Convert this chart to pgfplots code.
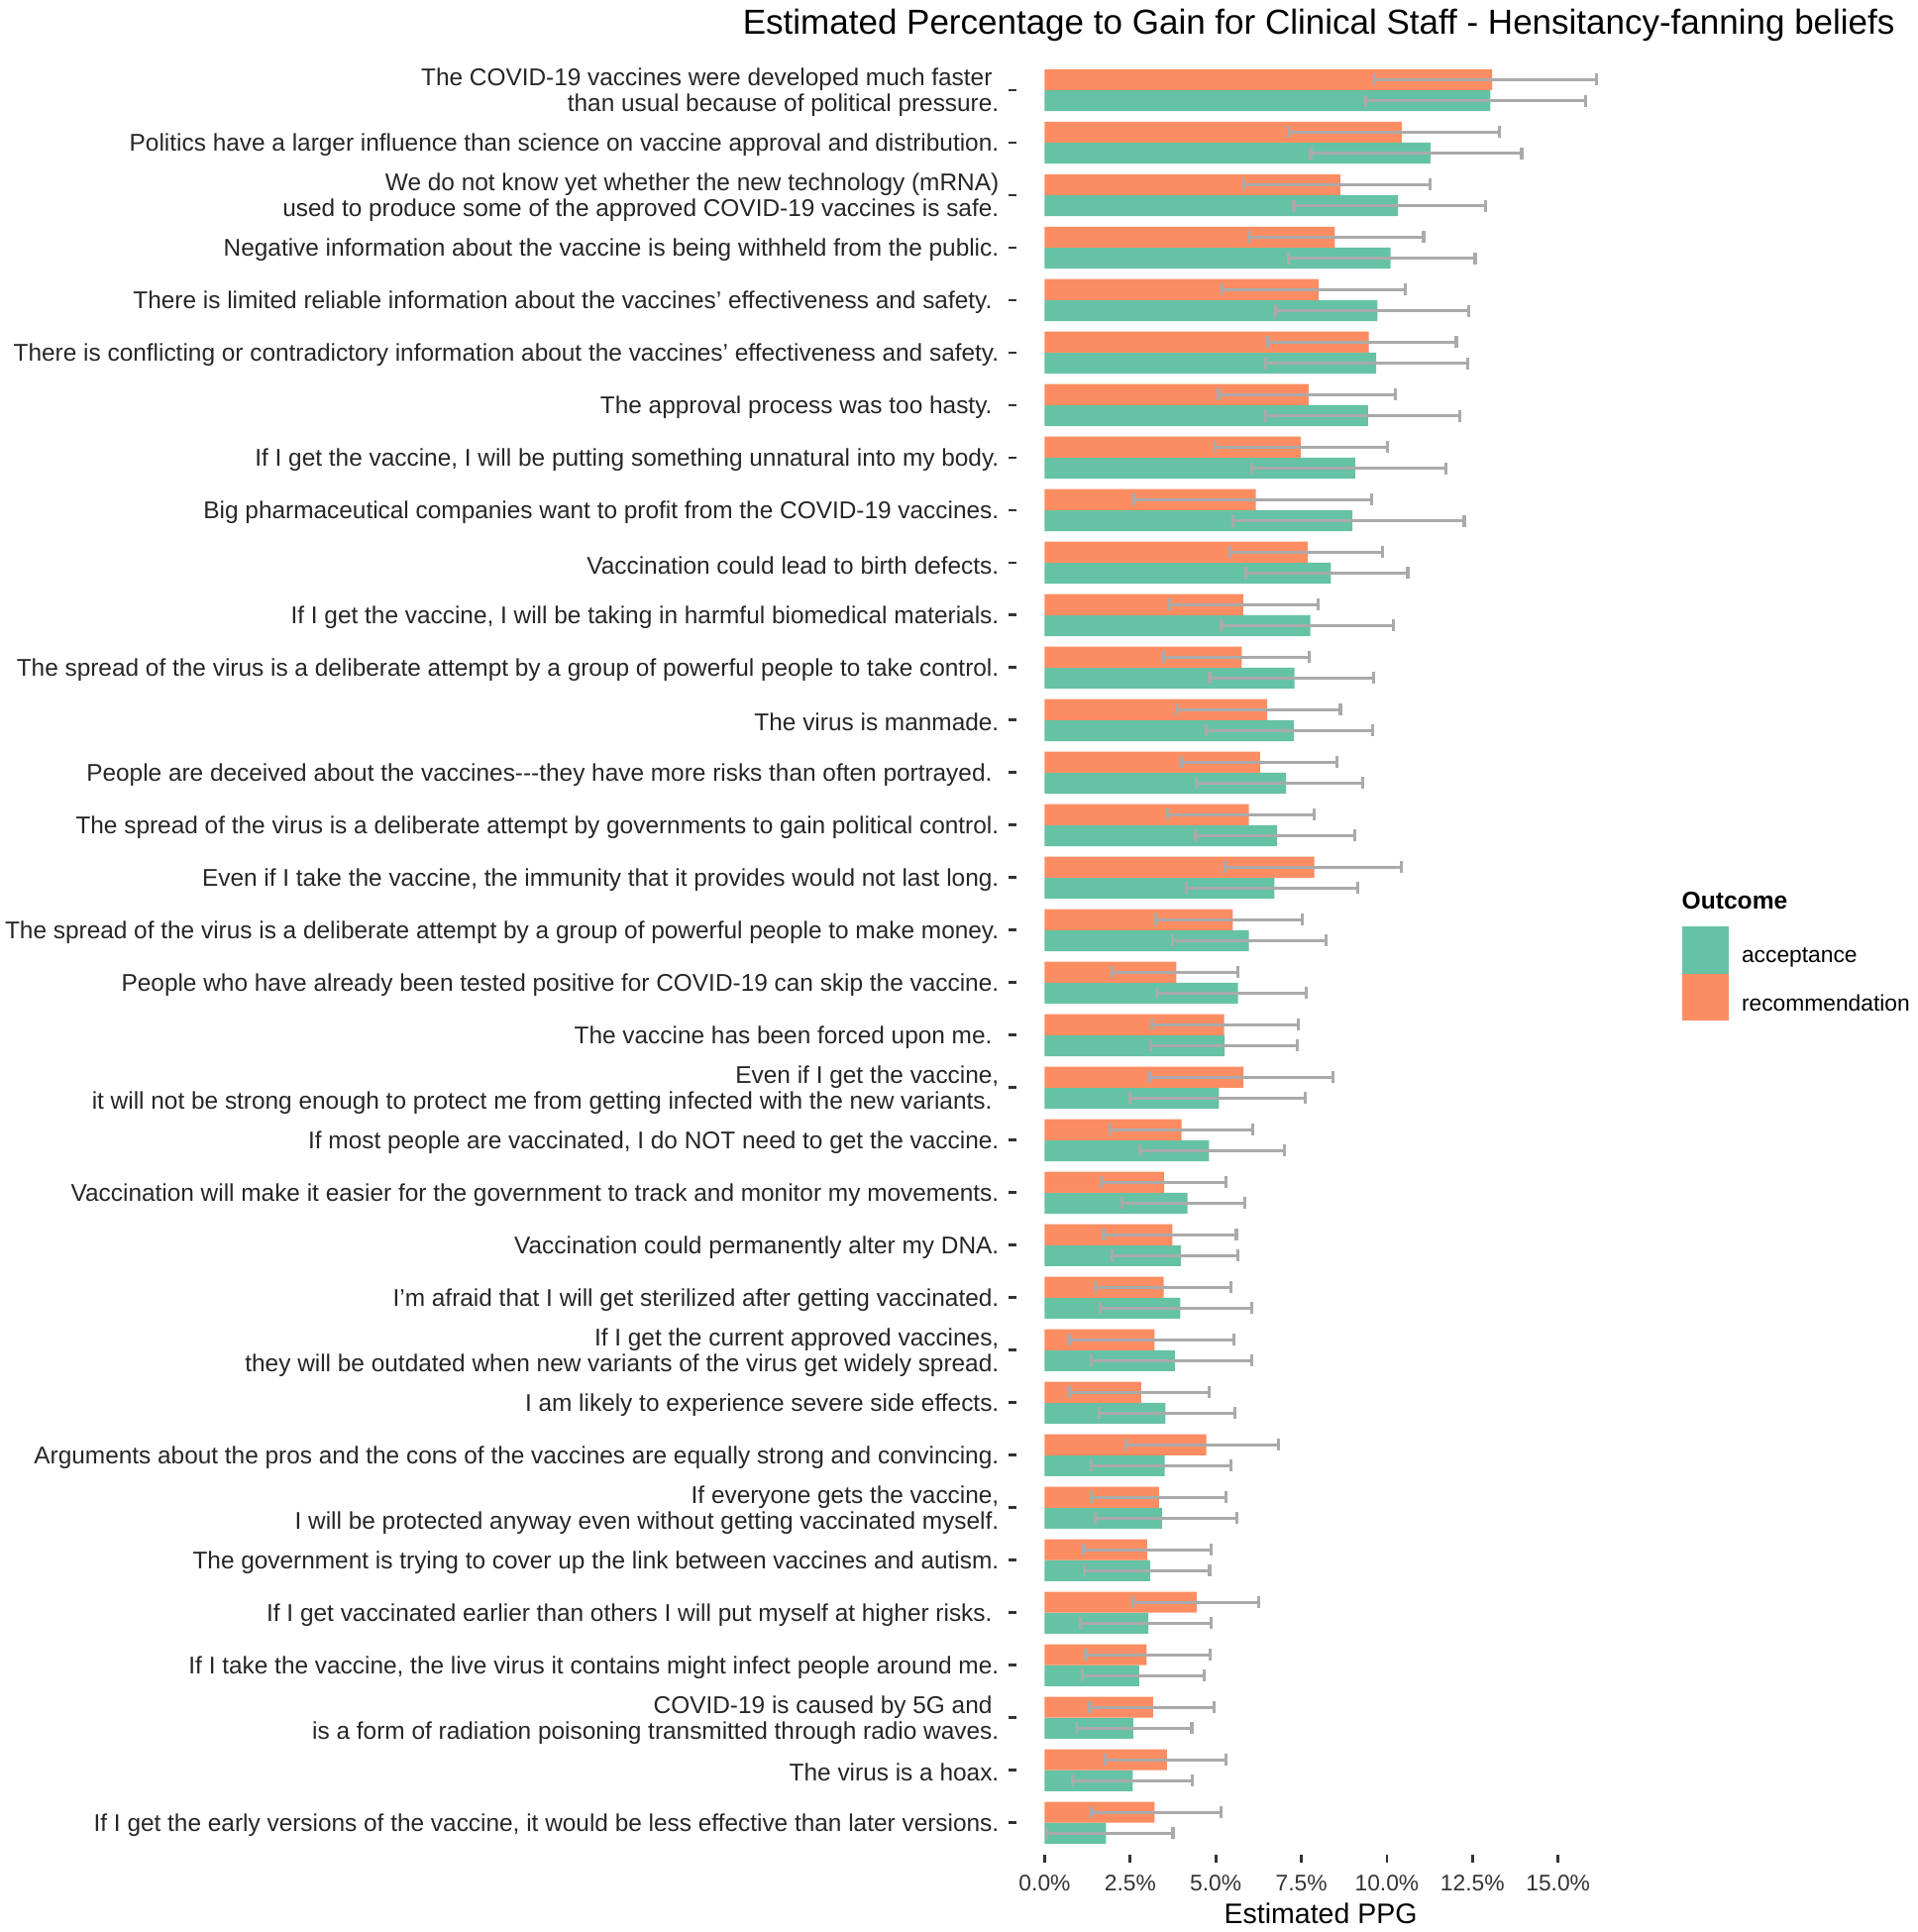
\documentclass[border=0pt]{standalone}
\usepackage{fontspec}
\setmainfont{Liberation Sans}
\usepackage{pgfplots}
\usepackage{pgfplotstable}
\pgfplotsset{compat=1.18}
\definecolor{accgreen}{HTML}{66C2A5}
\definecolor{recorange}{HTML}{FC8D62}
\definecolor{errgray}{HTML}{AAAAAA}
\definecolor{tickgray}{HTML}{333333}
\newcommand\axfont{\fontsize{11.4}{13}\selectfont}
\newcommand\ylfont{\fontsize{12.2}{13}\selectfont}

\pgfplotstableread{
row acc accL accH rec recL recH
1 13.02 9.39 15.81 13.07 9.63 16.13
2 11.27 7.77 13.94 10.43 7.11 13.28
3 10.32 7.28 12.89 8.64 5.81 11.25
4 10.11 7.13 12.58 8.48 5.97 11.07
5 9.72 6.74 12.39 8.01 5.19 10.54
6 9.69 6.45 12.36 9.47 6.53 12.03
7 9.45 6.45 12.14 7.71 5.08 10.24
8 9.08 6.06 11.72 7.49 4.97 10.01
9 8.99 5.50 12.26 6.17 2.62 9.55
10 8.36 5.87 10.61 7.69 5.42 9.86
11 7.76 5.17 10.18 5.80 3.64 7.99
12 7.30 4.82 9.62 5.76 3.46 7.74
13 7.28 4.73 9.58 6.50 3.84 8.64
14 7.05 4.42 9.30 6.29 4.00 8.55
15 6.79 4.40 9.07 5.97 3.59 7.87
16 6.71 4.13 9.15 7.88 5.26 10.43
17 5.97 3.73 8.22 5.50 3.24 7.53
18 5.65 3.27 7.64 3.85 1.97 5.64
19 5.26 3.10 7.38 5.24 3.12 7.40
20 5.09 2.50 7.62 5.81 3.08 8.42
21 4.80 2.77 7.00 4.00 1.90 6.09
22 4.17 2.26 5.84 3.49 1.64 5.30
23 3.98 1.98 5.65 3.73 1.72 5.60
24 3.96 1.62 6.06 3.48 1.48 5.44
25 3.80 1.35 6.06 3.21 0.73 5.54
26 3.53 1.59 5.55 2.82 0.72 4.81
27 3.51 1.35 5.45 4.72 2.38 6.83
28 3.43 1.48 5.61 3.34 1.35 5.30
29 3.08 1.17 4.82 2.99 1.13 4.87
30 3.03 1.05 4.86 4.44 2.57 6.26
31 2.76 1.09 4.65 2.98 1.20 4.83
32 2.59 0.93 4.30 3.17 1.32 4.94
33 2.57 0.81 4.31 3.57 1.76 5.29
34 1.79 0.06 3.75 3.21 1.35 5.16
}\ppg

\begin{document}
\begin{tikzpicture}
\useasboundingbox (0,0) rectangle (967.5pt,975pt);
\begin{axis}[
  at={(513.25pt,39.25pt)}, anchor=south west,
  scale only axis, width=306.6pt, height=906.15pt,
  xmin=-0.81, xmax=16.94, ymin=0.4, ymax=34.6,
  clip=false,
  xbar, bar width=0.4, bar shift=0pt,
  axis x line*=bottom, axis y line*=left,
  axis line style={draw=none},
  tick align=outside, major tick length=4pt,
  tick style={line width=1.4pt, color=tickgray},
  xtick={0,2.5,5,7.5,10,12.5,15},
  xticklabels={0.0\%,2.5\%,5.0\%,7.5\%,10.0\%,12.5\%,15.0\%},
  xticklabel style={font=\axfont, color=black!80, anchor=center, inner sep=0pt, yshift=-10.4pt},
  ytick={1,...,34},
  yticklabels={
    {If I get the early versions of the vaccine, it would be less effective than later versions.},
    {The virus is a hoax.},
    {COVID-19 is caused by 5G and\hspace*{3.4pt}\\is a form of radiation poisoning transmitted through radio waves.},
    {If I take the vaccine, the live virus it contains might infect people around me.},
    {If I get vaccinated earlier than others I will put myself at higher risks.\hspace*{3.4pt}},
    {The government is trying to cover up the link between vaccines and autism.},
    {If everyone gets the vaccine,\\I will be protected anyway even without getting vaccinated myself.},
    {Arguments about the pros and the cons of the vaccines are equally strong and convincing.},
    {I am likely to experience severe side effects.},
    {If I get the current approved vaccines,\\they will be outdated when new variants of the virus get widely spread.},
    {I’m afraid that I will get sterilized after getting vaccinated.},
    {Vaccination could permanently alter my DNA.},
    {Vaccination will make it easier for the government to track and monitor my movements.},
    {If most people are vaccinated, I do NOT need to get the vaccine.},
    {Even if I get the vaccine,\\it will not be strong enough to protect me from getting infected with the new variants.\hspace*{3.4pt}},
    {The vaccine has been forced upon me.\hspace*{3.4pt}},
    {People who have already been tested positive for COVID-19 can skip the vaccine.},
    {The spread of the virus is a deliberate attempt by a group of powerful people to make money.},
    {Even if I take the vaccine, the immunity that it provides would not last long.},
    {The spread of the virus is a deliberate attempt by governments to gain political control.},
    {People are deceived about the vaccines-{}-{}-they have more risks than often portrayed.\hspace*{3.4pt}},
    {The virus is manmade.},
    {The spread of the virus is a deliberate attempt by a group of powerful people to take control.},
    {If I get the vaccine, I will be taking in harmful biomedical materials.},
    {Vaccination could lead to birth defects.},
    {Big pharmaceutical companies want to profit from the COVID-19 vaccines.},
    {If I get the vaccine, I will be putting something unnatural into my body.},
    {The approval process was too hasty.\hspace*{3.4pt}},
    {There is conflicting or contradictory information about the vaccines’ effectiveness and safety.},
    {There is limited reliable information about the vaccines’ effectiveness and safety.\hspace*{3.4pt}},
    {Negative information about the vaccine is being withheld from the public.},
    {We do not know yet whether the new technology (mRNA)\\used to produce some of the approved COVID-19 vaccines is safe.},
    {Politics have a larger influence than science on vaccine approval and distribution.},
    {The COVID-19 vaccines were developed much faster\hspace*{3.4pt}\\than usual because of political pressure.}
  },
  yticklabel style={font=\ylfont, color=black!85, align=right, anchor=east, inner sep=0pt, xshift=-4.9pt, yshift=-1.2pt},
  xlabel={Estimated PPG},
  xlabel style={at={(axis description cs:0.5,-0.0328)}, anchor=center, inner sep=0pt, font=\fontsize{14.25}{16}\selectfont},
  title={Estimated Percentage to Gain for Clinical Staff - Hensitancy-fanning beliefs},
  title style={at={(axis description cs:1.4457,1.00701)}, anchor=base east, inner sep=0pt, font=\fontsize{17.5}{20}\selectfont},
  legend style={at={(axis description cs:1.0943,0.5167)}, anchor=north west, draw=none, fill=none,
    inner sep=0pt, outer sep=0pt, row sep=0pt, column sep=6.5pt, font=\axfont, nodes={inner sep=0pt}},
  legend cell align=left,
]
\addplot[fill=accgreen, draw=none,
  legend image code/.code={\fill[accgreen] (0pt,-8.4pt) rectangle (23.75pt,15.35pt);},
  error bars/.cd, x dir=both, x explicit, error mark=|,
  error bar style={line width=1.6pt, color=errgray},
  error mark options={line width=1.6pt, color=errgray, mark size=3pt}]
  table[x=acc, y expr=35-\thisrow{row}-0.2,
        x error plus expr=\thisrow{accH}-\thisrow{acc},
        x error minus expr=\thisrow{acc}-\thisrow{accL}] {\ppg};
\addlegendentry{acceptance}
\addplot[fill=recorange, draw=none,
  legend image code/.code={\fill[recorange] (0pt,-8.4pt) rectangle (23.75pt,15.35pt);},
  error bars/.cd, x dir=both, x explicit, error mark=|,
  error bar style={line width=1.6pt, color=errgray},
  error mark options={line width=1.6pt, color=errgray, mark size=3pt}]
  table[x=rec, y expr=35-\thisrow{row}+0.2,
        x error plus expr=\thisrow{recH}-\thisrow{rec},
        x error minus expr=\thisrow{rec}-\thisrow{recL}] {\ppg};
\addlegendentry{recommendation}
\node[anchor=base west, inner sep=0pt, font=\bfseries\fontsize{12.3}{14}\selectfont] at (axis description cs:1.0939,0.52612) {Outcome};
\end{axis}
\end{tikzpicture}
\end{document}
